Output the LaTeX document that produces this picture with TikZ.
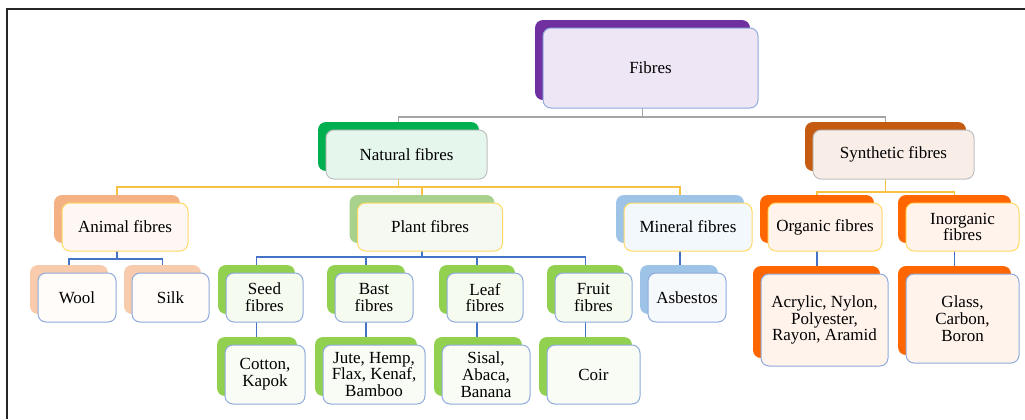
\documentclass[tikz,border=0pt]{standalone}
\usepackage{fontspec}
\setmainfont{Liberation Serif}
\usetikzlibrary{calc,backgrounds}

\definecolor{cPurple}{HTML}{7030A0}
\definecolor{cGreen}{HTML}{00B050}
\definecolor{cRust}{HTML}{C55A11}
\definecolor{cPeach}{HTML}{F4B183}
\definecolor{cPeachLt}{HTML}{F8CBAD}
\definecolor{cSage}{HTML}{A9D18E}
\definecolor{cLime}{HTML}{92D050}
\definecolor{cSky}{HTML}{9DC3E6}
\definecolor{cOrange}{HTML}{FF6600}
\definecolor{cEdgeBlue}{HTML}{8FAADC}
\definecolor{cEdgeGray}{HTML}{BFBFBF}
\definecolor{cEdgeYellow}{HTML}{FFD966}
\definecolor{cLineGray}{HTML}{A5A5A5}
\definecolor{cLineYellow}{HTML}{F5C242}
\definecolor{cLineBlue}{HTML}{4472C4}

% back block and front card of one box
\newcommand{\fibrecard}[7]{%
  \node[backcard, fill=#5, minimum width=#3*0.75pt, minimum height=#4*0.75pt] (#1-b) at ($(#2)+(-8,-8)$) {};
  \node[frontcard, #6, minimum width=#3*0.75pt, minimum height=#4*0.75pt] (#1) at (#2) {#7};}

\begin{document}
\begin{tikzpicture}[x=0.75pt, y=-0.75pt,
  backcard/.style={rounded corners=6pt, inner sep=0pt},
  frontcard/.style={rounded corners=6pt, line width=0.75pt, align=center, inner sep=2pt,
    font=\fontsize{12.75pt}{12.6pt}\selectfont},
  rootedge/.style={draw=cEdgeBlue},
  graycard/.style={draw=cEdgeGray},
  yellowcard/.style={draw=cEdgeYellow},
  bluecard/.style={draw=cEdgeBlue},
  linegray/.style={draw=cLineGray, line width=1pt},
  lineyellow/.style={draw=cLineYellow, line width=1pt},
  lineblue/.style={draw=cLineBlue, line width=1pt}]
\useasboundingbox (0,0) rectangle (1025,419);
\draw[black!85, line width=1.4pt] (7,419) -- (7,9) -- (1025,9);

% level 1 and 2
\fibrecard{fib}{650.5,68}{215}{80}{cPurple}{rootedge, fill=cPurple!12!white}{Fibres}
\fibrecard{nat}{406.5,154.5}{161}{49}{cGreen}{graycard, fill=cGreen!10!white}{Natural fibres}
\fibrecard{syn}{893.5,154.5}{161}{49}{cRust}{graycard, fill=cRust!10!white}{Synthetic fibres}

% level 3
\fibrecard{ani}{125,227}{126}{48}{cPeach}{yellowcard, fill=cPeach!10!white}{Animal fibres}
\fibrecard{pla}{430,227}{145}{48}{cSage}{yellowcard, fill=cSage!12!white}{Plant fibres}
\fibrecard{min}{688,227}{128}{48}{cSky}{yellowcard, fill=cSky!12!white}{Mineral fibres}
\fibrecard{org}{825,227}{114}{48}{cOrange}{yellowcard, fill=cOrange!8!white}{Organic fibres}
\fibrecard{ino}{962.5,227}{113}{48}{cOrange}{yellowcard, fill=cOrange!8!white}{Inorganic\\fibres}

% level 4
\fibrecard{wool}{77,297.5}{78}{49}{cPeachLt}{bluecard, fill=cPeachLt!6!white}{Wool}
\fibrecard{silk}{170.5,297.5}{77}{49}{cPeachLt}{bluecard, fill=cPeachLt!6!white}{Silk}
\fibrecard{seed}{264.5,297.5}{77}{49}{cLime}{bluecard, fill=cLime!9!white}{Seed\\fibres}
\fibrecard{bast}{374,297.5}{78}{49}{cLime}{bluecard, fill=cLime!9!white}{Bast\\fibres}
\fibrecard{leaf}{485,297.5}{76}{49}{cLime}{bluecard, fill=cLime!9!white}{Leaf\\fibres}
\fibrecard{frui}{593.5,297.5}{77}{49}{cLime}{bluecard, fill=cLime!9!white}{Fruit\\fibres}
\fibrecard{asb}{687,297.5}{78}{49}{cSky}{bluecard, fill=cSky!10!white}{Asbestos}

% level 5
\fibrecard{cot}{265,374.5}{80}{59}{cLime}{bluecard, fill=cLime!6!white}{Cotton,\\Kapok}
\fibrecard{jute}{374,374.5}{102}{59}{cLime}{bluecard, fill=cLime!6!white}{Jute, Hemp,\\Flax, Kenaf,\\Bamboo}
\fibrecard{sis}{486,374.5}{88}{59}{cLime}{bluecard, fill=cLime!6!white}{Sisal,\\Abaca,\\Banana}
\fibrecard{coir}{593.5,374.5}{93}{59}{cLime}{bluecard, fill=cLime!6!white}{Coir}
\fibrecard{acr}{824.5,320}{127}{92}{cOrange}{bluecard, fill=cOrange!8!white}{Acrylic, Nylon,\\Polyester,\\Rayon, Aramid}
\fibrecard{gla}{962.5,318.5}{113}{89}{cOrange}{bluecard, fill=cOrange!8!white}{Glass,\\Carbon,\\Boron}

% connectors
\begin{scope}[on background layer]
\coordinate (bus1) at (0,117);
\coordinate (bus2) at (0,187);
\coordinate (bus3) at (0,192);
\coordinate (bus4) at (0,259);
\coordinate (bus5) at (0,257);
\foreach \c in {nat,syn}
  \draw[linegray] (fib-b.south) |- (bus1 -| \c-b.north) -- (\c-b.north);
\foreach \c in {ani,pla,min}
  \draw[lineyellow] (nat-b.south) |- (bus2 -| \c-b.north) -- (\c-b.north);
\foreach \c in {org,ino}
  \draw[lineyellow] (syn-b.south) |- (bus3 -| \c-b.north) -- (\c-b.north);
\foreach \c in {wool,silk}
  \draw[lineblue] (ani-b.south) |- (bus4 -| \c-b.north) -- (\c-b.north);
\foreach \c in {seed,bast,leaf,frui}
  \draw[lineblue] (pla-b.south) |- (bus5 -| \c-b.north) -- (\c-b.north);
\foreach \p/\c in {min/asb,seed/cot,bast/jute,leaf/sis,frui/coir,org/acr,ino/gla}
  \draw[lineblue] (\p-b.south) -- (\p-b.south |- \c-b.north);
\end{scope}
\end{tikzpicture}
\end{document}
